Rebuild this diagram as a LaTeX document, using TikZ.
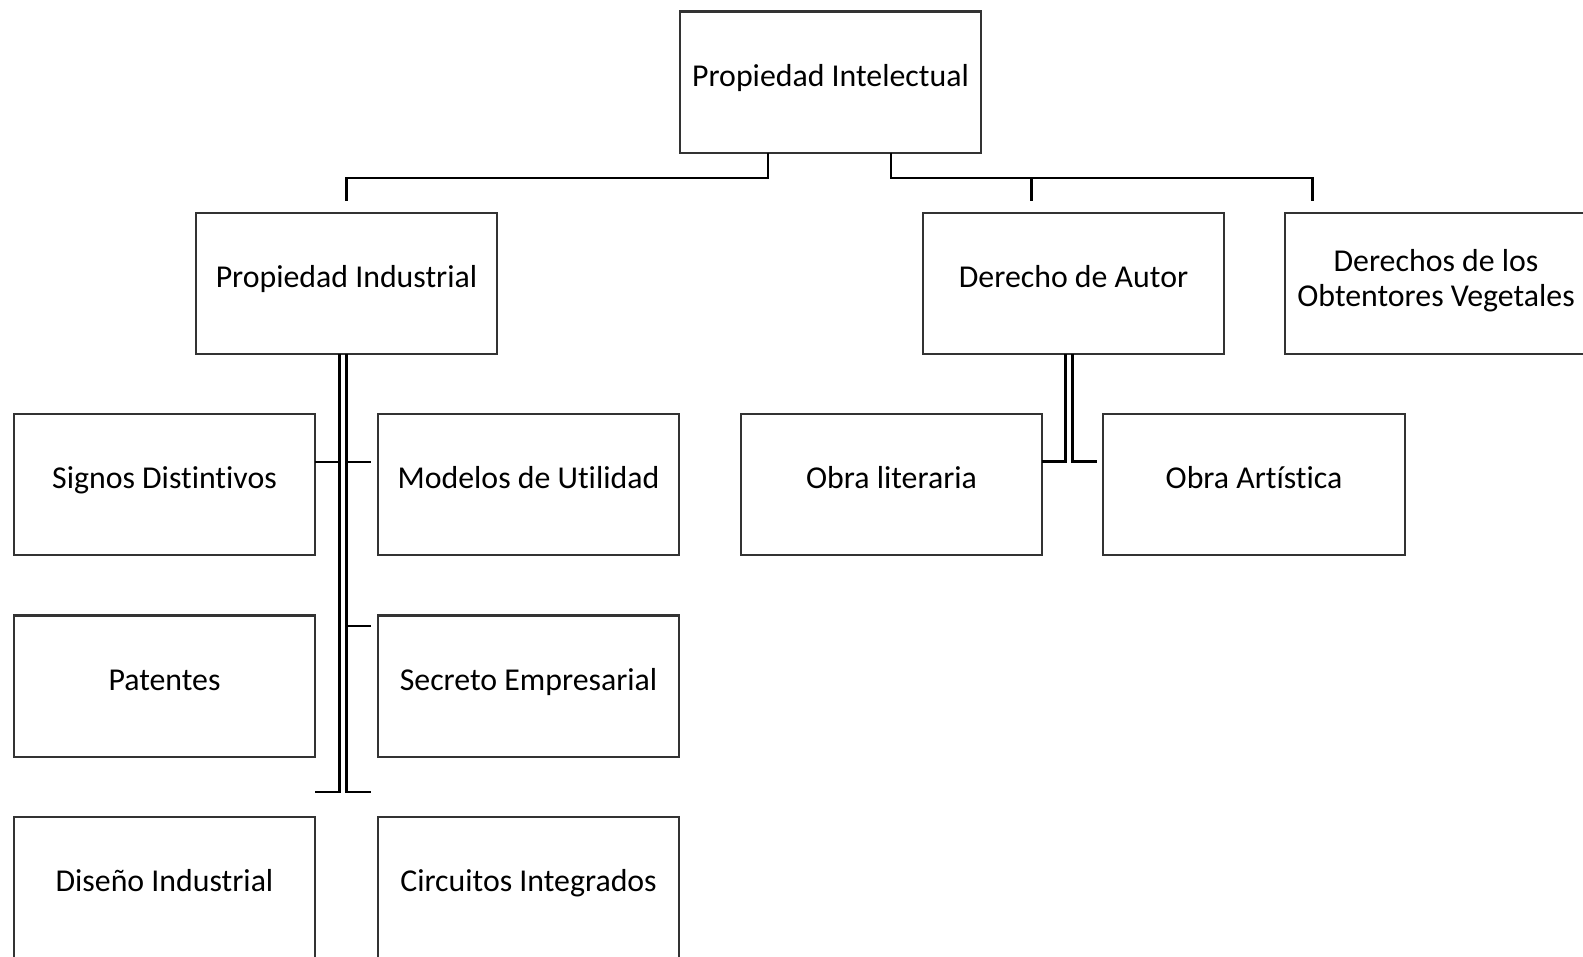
\documentclass[tikz,border=0pt]{standalone}
\usepackage{fontspec}
\setmainfont[Ligatures=NoCommon]{Carlito}

\begin{document}
\begin{tikzpicture}[x=0.01cm,y=-0.01cm,
    caja/.style={draw=black!80, line width=0.6pt, minimum width=3.01cm, minimum height=1.41cm,
        inner sep=0pt, outer sep=0pt, align=center, font=\fontsize{9.05}{10}\selectfont,
        text height=0.7em, text depth=0.46em},
    enlace/.style={line width=0.75pt}]
    \useasboundingbox (0,0) rectangle (1583,956);

    %nivel 1
    \node[caja] (pint) at (830.5,82) {Propiedad Intelectual};

    %nivel 2
    \node[caja] (pind) at (346.5,283.5) {Propiedad Industrial};
    \node[caja] (dau) at (1073.5,283.5) {Derecho de Autor};
    \node[caja, text height=, text depth=0.31em] (dov) at (1436,283.5) {Derechos de los\\Obtentores Vegetales};

    %nivel 3
    \node[caja] (sig) at (164.5,484.5) {Signos Distintivos};
    \node[caja] (mod) at (528.5,484.5) {Modelos de Utilidad};
    \node[caja] (pat) at (164.5,686) {Patentes};
    \node[caja] (sec) at (528.5,686) {Secreto Empresarial};
    \node[caja] (dis) at (164.5,887.5) {Diseño Industrial};
    \node[caja] (cir) at (528.5,887.5) {Circuitos Integrados};
    \node[caja] (olit) at (891.5,484.5) {Obra literaria};
    \node[caja] (oart) at (1254,484.5) {Obra Artística};

    %puntos de union
    \coordinate (j1) at (768,178);
    \coordinate (j2) at (891,178);
    \coordinate (d1) at (346.5,201);
    \coordinate (d2) at (1031.6,201);
    \coordinate (d3) at (1312.6,201);

    \draw[enlace] (pint.south -| j1) -- (j1) -| (d1);
    \draw[enlace] (pint.south -| j2) -- (j2) -| (d3);
    \draw[enlace] (j2 -| d2) -- (d2);

    %propiedad industrial
    \coordinate (pa) at (339.3,792);
    \coordinate (pb) at (346.7,792);
    \coordinate (pb1) at (370.7,462);
    \coordinate (pb2) at (370.7,626);
    \coordinate (pb3) at (370.7,792);
    \draw[enlace] (pind.south -| pa) -- (pa) -- (dis.north east |- pa);
    \draw[enlace] (pind.south -| pb) -- (pb) -- (pb3);
    \draw[enlace] (sig.east |- pb1) -- (pa |- pb1);
    \draw[enlace] (pb |- pb1) -- (pb1);
    \draw[enlace] (pb |- pb2) -- (pb2);

    %derecho de autor
    \coordinate (da) at (1065.7,461.7);
    \coordinate (db) at (1072.3,461.7);
    \coordinate (db1) at (1097.3,461.7);
    \draw[enlace] (dau.south -| da) -- (da) -- (olit.east |- da);
    \draw[enlace] (dau.south -| db) -- (db) -- (db1);
\end{tikzpicture}
\end{document}
